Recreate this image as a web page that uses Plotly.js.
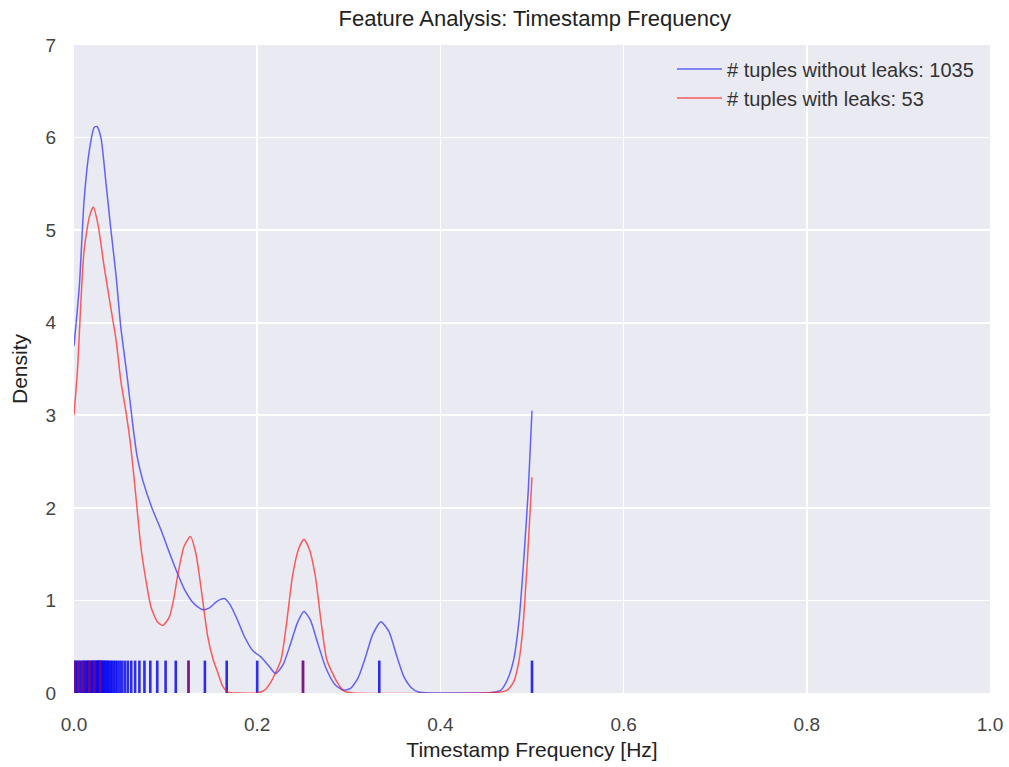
<!DOCTYPE html>
<html>
<head>
<meta charset="utf-8">
<script src="https://cdn.plot.ly/plotly-3.0.1.min.js"></script>
<style>html,body{margin:0;padding:0;background:#fff}#chart{width:1009px;height:767px}</style>
</head>
<body>
<div id="chart"></div>
<script>
// KDE curve estimates
const blueX = [0,0.0058,0.011,0.0167,0.022,0.025,0.0294,0.035,0.040,0.046,0.051,0.0585,0.064,0.069,0.075,0.085,0.095,0.104,0.113,0.120,0.128,0.135,0.141,0.148,0.156,0.164,0.170,0.178,0.186,0.195,0.204,0.212,0.220,0.228,0.236,0.244,0.251,0.258,0.266,0.275,0.285,0.294,0.302,0.310,0.318,0.326,0.335,0.344,0.352,0.360,0.368,0.376,0.39,0.42,0.45,0.46,0.466,0.473,0.48,0.486,0.491,0.496,0.5];
const blueY = [3.75,4.39,5.32,5.86,6.11,6.12,6.0,5.5,5.03,4.5,3.96,3.38,2.91,2.55,2.3,2.0,1.76,1.52,1.29,1.13,1.0,0.93,0.9,0.92,0.99,1.02,0.96,0.8,0.61,0.46,0.39,0.3,0.21,0.3,0.52,0.76,0.88,0.79,0.54,0.27,0.09,0.03,0.05,0.16,0.38,0.63,0.77,0.66,0.41,0.18,0.06,0.01,0,0,0,0.01,0.03,0.14,0.36,0.8,1.44,2.2,3.05];
const redX = [0,0.004,0.0076,0.011,0.0167,0.021,0.026,0.033,0.040,0.046,0.051,0.057,0.062,0.0676,0.073,0.0785,0.084,0.091,0.097,0.104,0.109,0.113,0.120,0.127,0.133,0.1385,0.146,0.152,0.157,0.162,0.168,0.18,0.2,0.208,0.215,0.226,0.232,0.2385,0.245,0.251,0.257,0.2635,0.27,0.276,0.287,0.295,0.305,0.45,0.466,0.473,0.48,0.486,0.49,0.495,0.5];
const redY = [3.0,3.52,4.24,4.78,5.14,5.25,5.07,4.6,4.17,3.81,3.38,3.02,2.66,2.12,1.58,1.22,0.93,0.77,0.73,0.82,1.02,1.26,1.58,1.69,1.51,1.15,0.61,0.36,0.22,0.08,0.01,0,0,0.03,0.12,0.36,0.75,1.26,1.55,1.66,1.55,1.26,0.75,0.36,0.12,0.02,0,0,0.01,0.03,0.12,0.36,0.7,1.44,2.33];

// Rug observations (timestamp frequencies)
const blueRug = [0,0.5,0.3333,0.25,0.2,0.1667,0.1429,0.125,0.1111,0.1,0.0909,0.0833,0.0769,0.0714,0.0667,0.0625,0.0588,0.0556,0.0526,0.05,0.0476,0.0455,0.0435,0.0417,0.04,0.0385,0.037,0.0357,0.0345,0.0333,0.0323,0.0313,0.0303,0.0294,0.0286,0.0278,0.027,0.0263,0.0256,0.025,0.0238,0.0227,0.0217,0.0208,0.02,0.0185,0.0172,0.0161,0.015,0.0139,0.0125,0.0111,0.01,0.0083,0.0067,0.005,0.0033,0.0017];
const redRug = [0,0.005,0.01,0.0167,0.0222,0.0286,0.125,0.25];
const rugHeight = 0.35;

const seriesNames = ['# tuples without leaks: 1035', '# tuples with leaks: 53'];
const xTicks = [0,0.2,0.4,0.6,0.8,1.0];
const yTicks = [0,1,2,3,4,5,6,7];

function rug(vals){
  const x=[], y=[];
  vals.forEach(v=>{ x.push(v,v,null); y.push(0,rugHeight,null); });
  return {x,y};
}
const br = rug(blueRug), rr = rug(redRug);

const traces = [
  {x: br.x, y: br.y, mode:'lines', line:{color:'rgba(10,10,240,0.85)', width:2.6}, showlegend:false, hoverinfo:'skip'},
  {x: rr.x, y: rr.y, mode:'lines', line:{color:'rgba(230,0,0,0.45)', width:2.6}, showlegend:false, hoverinfo:'skip'},
  {x: blueX, y: blueY, mode:'lines', name: seriesNames[0], legendgroup:'a', line:{color:'rgba(40,40,255,0.7)', width:1.5, shape:'spline', smoothing:0.6}},
  {x: redX, y: redY, mode:'lines', name: seriesNames[1], legendgroup:'b', line:{color:'rgba(255,30,30,0.7)', width:1.5, shape:'spline', smoothing:0.6}}
];

const font = 'Liberation Sans, Arial, Helvetica, sans-serif';
const layout = {
  width:1009, height:767,
  margin:{l:74, r:19, t:45, b:74},
  paper_bgcolor:'#ffffff', plot_bgcolor:'#EAEAF2',
  font:{family:font, color:'#333', size:18},
  title:{text:'Feature Analysis: Timestamp Frequency', x:0.53, xanchor:'center', y:0.976, yanchor:'middle', font:{size:22, color:'#222', family:font}},
  xaxis:{range:[0,1], tickvals:xTicks, ticktext:xTicks.map(v=>v.toFixed(1)), showgrid:true, gridcolor:'#ffffff', gridwidth:1.6, zeroline:false, showline:false,
    ticks:'outside', ticklen:14, tickcolor:'rgba(0,0,0,0)', tickfont:{size:19, color:'#444'},
    title:{text:'Timestamp Frequency [Hz]', font:{size:21, color:'#222'}, standoff:8}},
  yaxis:{range:[0,7], tickvals:yTicks, showgrid:true, gridcolor:'#ffffff', gridwidth:1.6, zeroline:false, showline:false,
    ticks:'outside', ticklen:13, tickcolor:'rgba(0,0,0,0)', tickfont:{size:19, color:'#444'},
    title:{text:'Density', font:{size:21, color:'#222'}, standoff:12}},
  legend:{x:0.988, xanchor:'right', y:0.993, yanchor:'top', bgcolor:'rgba(0,0,0,0)', font:{size:20, color:'#333'}, itemwidth:45, tracegroupgap:0},
  showlegend:true
};
Plotly.newPlot('chart', traces, layout, {staticPlot:true});
</script>
</body>
</html>
